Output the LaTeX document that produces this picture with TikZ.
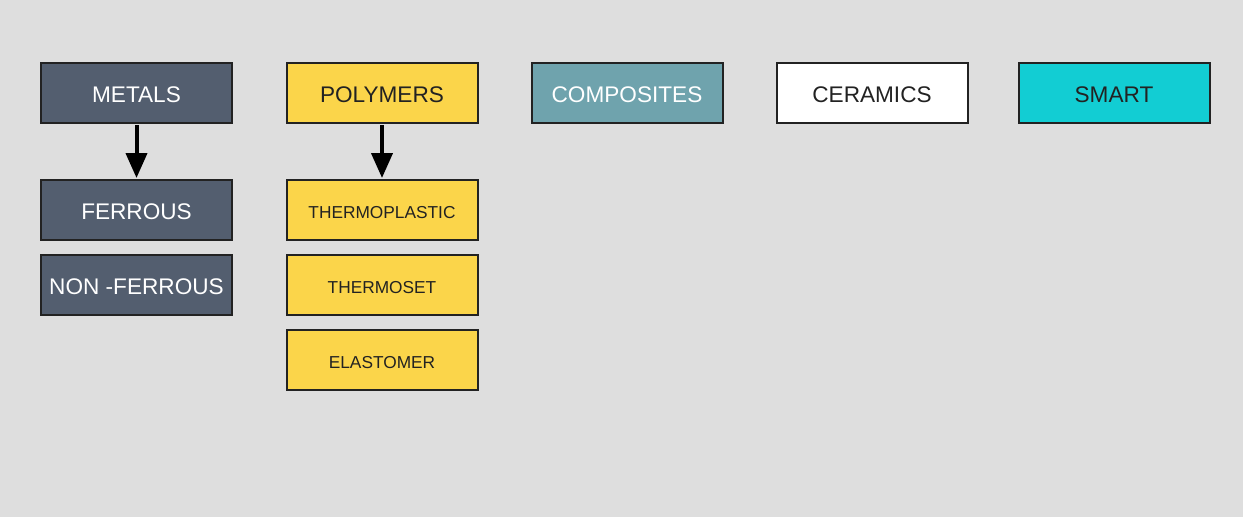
\documentclass[tikz,border=0pt]{standalone}
\usepackage{fontspec}
\setmainfont{Liberation Sans}
\usetikzlibrary{arrows.meta}
\definecolor{bg}{HTML}{DEDEDE}
\definecolor{metal}{HTML}{535E6F}
\definecolor{poly}{HTML}{FBD54A}
\definecolor{comp}{HTML}{6FA3AD}
\definecolor{smartc}{HTML}{12CDD3}
\definecolor{edge}{HTML}{222222}
\begin{document}
\begin{tikzpicture}[x=1pt,y=-1pt,
  box/.style={draw=edge,line width=2pt,minimum width=191pt,minimum height=60pt,inner sep=0pt,text height=19.4pt,text depth=0pt,font=\fontsize{22.6}{26}\selectfont},
  small/.style={box,text height=16.4pt,font=\fontsize{17.3}{20}\selectfont},
  conn/.style={line width=4pt,-{Triangle[width=21pt,length=25pt]},shorten >=1pt,shorten <=1pt}]
\fill[bg] (0,0) rectangle (1243,517);
\useasboundingbox (0,0) rectangle (1243,517);
\node[box,fill=metal,text=white] (metals) at (136.5,93) {METALS};
\node[box,fill=poly,text=edge] (polymers) at (382,93) {POLYMERS};
\node[box,fill=comp,text=white] (composites) at (627,93) {COMPOSITES};
\node[box,fill=white,text=edge] (ceramics) at (872,93) {CERAMICS};
\node[box,fill=smartc,text=edge] (smart) at (1114,93) {SMART};
\node[box,fill=metal,text=white] (ferrous) at (136.5,210) {FERROUS};
\node[box,fill=metal,text=white] (nonferrous) at (136.5,285) {NON -FERROUS};
\node[small,fill=poly,text=edge] (thermoplastic) at (382,210) {THERMOPLASTIC};
\node[small,fill=poly,text=edge] (thermoset) at (382,285) {THERMOSET};
\node[small,fill=poly,text=edge] (elastomer) at (382,360) {ELASTOMER};
\draw[conn] (metals.south) -- (ferrous.north);
\draw[conn] (polymers.south) -- (thermoplastic.north);
\end{tikzpicture}
\end{document}
